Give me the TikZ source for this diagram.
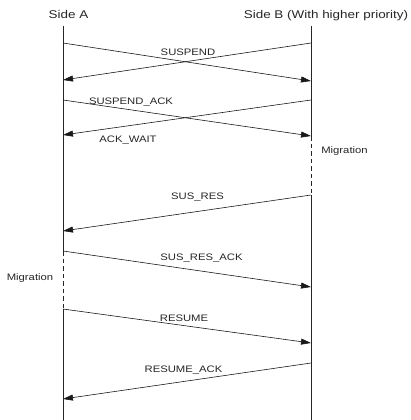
\documentclass[tikz,border=0pt]{standalone}
\usepackage{fontspec}
\setmainfont{Liberation Sans}[FakeStretch=1.2]
\usetikzlibrary{arrows.meta}
\begin{document}
\begin{tikzpicture}[x=1pt,y=-1pt,
  lifeline/.style={draw=black!85,line width=0.7pt},
  paused/.style={draw=black!85,line width=0.7pt,dash pattern=on 4.5pt off 3pt},
  msg/.style={draw=black!90,line width=0.6pt,-{Triangle[length=10pt,width=6pt]}},
  msglabel/.style={font=\fontsize{9.4}{11}\selectfont,anchor=base,inner sep=0pt,text=black!85},
  header/.style={font=\fontsize{11.2}{13}\selectfont,anchor=base,inner sep=0pt,text=black!85}]
\useasboundingbox (0,0) rectangle (411,420);

% participants
\node[header] (sideA) at (68.5,19) {Side A};
\node[header] (sideB) at (326,19) {Side B (With higher priority)};

% lifeline points of side A
\coordinate (aTop) at (63,26);
\coordinate (a1) at (63,43);
\coordinate (a2) at (63,80);
\coordinate (a3) at (63,100);
\coordinate (a4) at (63,135);
\coordinate (a5) at (63,231);
\coordinate (a6) at (63,251);
\coordinate (a7) at (63,309);
\coordinate (a8) at (63,399);
\coordinate (aEnd) at (63,420);

% lifeline points of side B
\coordinate (bTop) at (311,26);
\coordinate (b1) at (311,43);
\coordinate (b2) at (311,81);
\coordinate (b3) at (311,100);
\coordinate (b4) at (311,136);
\coordinate (b5) at (311,195);
\coordinate (b6) at (311,287);
\coordinate (b7) at (311,343);
\coordinate (b8) at (311,363);
\coordinate (bEnd) at (311,420);

% lifelines, dashed while migrating
\draw[lifeline] (aTop) -- (a6);
\draw[paused] (a6) -- (a7);
\draw[lifeline] (a7) -- (aEnd);
\draw[lifeline] (bTop) -- (b4);
\draw[paused] (b4) -- (b5);
\draw[lifeline] (b5) -- (bEnd);

% messages
\draw[msg] (a1) -- (b2);
\draw[msg] (b1) -- (a2);
\draw[msg] (a3) -- (b4);
\draw[msg] (b3) -- (a4);
\draw[msg] (b5) -- (a5);
\draw[msg] (a6) -- (b6);
\draw[msg] (a7) -- (b7);
\draw[msg] (b8) -- (a8);

% labels
\node[msglabel] (lSuspend) at (188,55.7) {SUSPEND};
\node[msglabel] (lSuspendAck) at (131,104) {SUSPEND\_ACK};
\node[msglabel] (lAckWait) at (128,142.5) {ACK\_WAIT};
\node[msglabel] (lMigB) at (344.5,153) {Migration};
\node[msglabel] (lSusRes) at (197.5,199) {SUS\_RES};
\node[msglabel] (lSusResAck) at (201.5,260) {SUS\_RES\_ACK};
\node[msglabel] (lMigA) at (30,280) {Migration};
\node[msglabel] (lResume) at (184,321) {RESUME};
\node[msglabel] (lResumeAck) at (183.5,372) {RESUME\_ACK};
\end{tikzpicture}
\end{document}
